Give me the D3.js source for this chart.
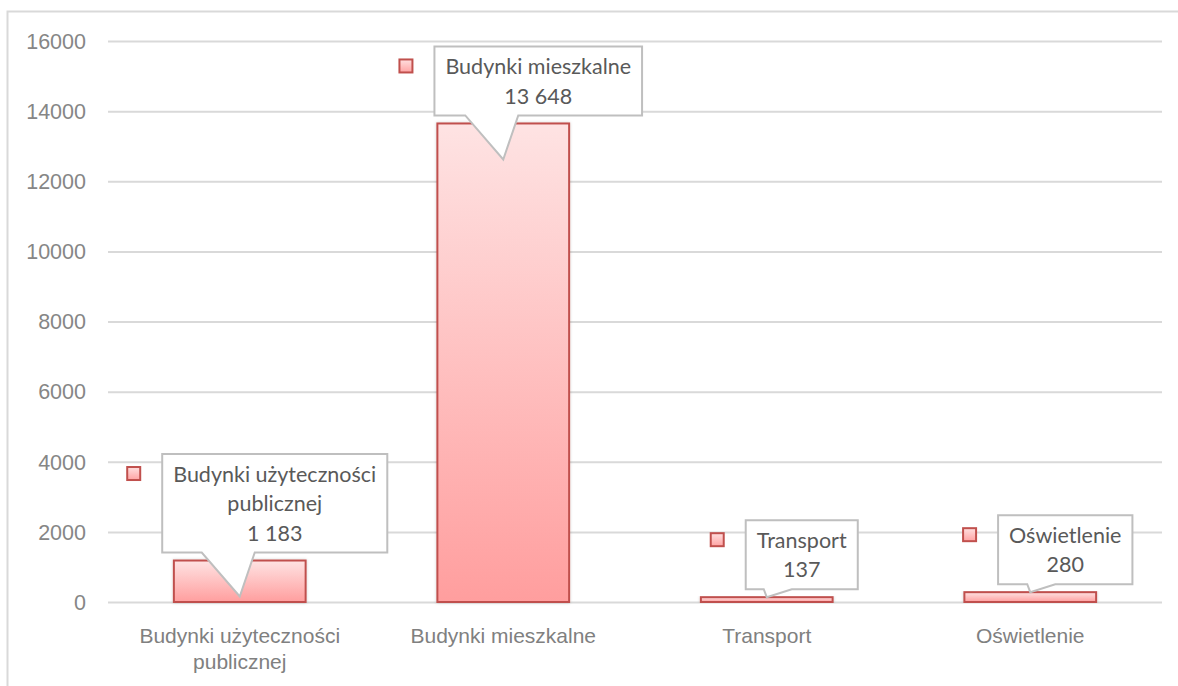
<!DOCTYPE html>
<html>
<head>
<meta charset="utf-8">
<script src="https://cdn.jsdelivr.net/npm/d3@7"></script>
<style>
  html, body { margin: 0; padding: 0; background: #fff; }
  svg { display: block; font-family: Lato, "Open Sans", sans-serif; }
</style>
</head>
<body>
<div id="chart"></div>
<script>
// data
const categories = ["Budynki użyteczności publicznej", "Budynki mieszkalne", "Transport", "Oświetlenie"];
const categoryLines = [["Budynki użyteczności", "publicznej"], ["Budynki mieszkalne"], ["Transport"], ["Oświetlenie"]];
const values = [1183, 13648, 137, 280];
const valueLabels = ["1 183", "13 648", "137", "280"];
const yTicks = [0, 2000, 4000, 6000, 8000, 10000, 12000, 14000, 16000];

let width = 1178,
    height = 686,
    margin = {top: 41, right: 16, bottom: 84, left: 108};

let svg = d3.select("#chart")
    .append("svg")
    .attr("width", width)
    .attr("height", height);

// outer frame (left + top only visible)
svg.append("path")
    .attr("d", "M7.5," + height + "V11.5H" + width)
    .attr("fill", "none")
    .attr("stroke", "#d9d9d9")
    .attr("stroke-width", 2);

let x = d3.scaleBand()
    .domain(categories)
    .range([margin.left, width - margin.right])
    .paddingInner(0.5)
    .paddingOuter(0.25);

let y = d3.scaleLinear()
    .domain([0, 16000])
    .range([height - margin.bottom, margin.top]);

let defs = svg.append("defs");
let grad = defs.append("linearGradient")
    .attr("id", "barGrad")
    .attr("x1", 0).attr("y1", 0).attr("x2", 0).attr("y2", 1);
grad.append("stop").attr("offset", "0%").attr("stop-color", "#fee3e3");
grad.append("stop").attr("offset", "100%").attr("stop-color", "#ff9e9e");

let keyGrad = defs.append("linearGradient")
    .attr("id", "keyGrad")
    .attr("x1", 0).attr("y1", 0).attr("x2", 0).attr("y2", 1);
keyGrad.append("stop").attr("offset", "0%").attr("stop-color", "#ffe0e0");
keyGrad.append("stop").attr("offset", "100%").attr("stop-color", "#ffa3a3");

let shadow = defs.append("filter").attr("id", "shadow")
    .attr("x", "-10%").attr("y", "-10%").attr("width", "120%").attr("height", "120%");
shadow.append("feDropShadow")
    .attr("dx", 0).attr("dy", 0).attr("stdDeviation", 1.5)
    .attr("flood-color", "#000").attr("flood-opacity", 0.18);

// gridlines
let yAxis = d3.axisLeft(y)
    .tickValues(yTicks)
    .tickSize(-(width - margin.left - margin.right))
    .tickPadding(22)
    .tickFormat(d3.format("d"));

let gy = svg.append("g")
    .attr("transform", "translate(" + margin.left + ",0)")
    .call(yAxis);
gy.select(".domain").remove();
gy.selectAll(".tick line")
    .attr("stroke", "#d9d9d9")
    .attr("stroke-width", 2);
gy.selectAll(".tick text")
    .attr("fill", "#868686")
    .attr("font-size", 21.5)
    .attr("dy", "0.34em");

// category labels
let xAxis = d3.axisBottom(x).tickSize(0).tickFormat("");
let gx = svg.append("g")
    .attr("transform", "translate(0," + y(0) + ")")
    .call(xAxis);
gx.select(".domain").remove();
gx.selectAll(".tick").each(function (d, i) {
    let t = d3.select(this).append("text")
        .attr("fill", "#808080")
        .attr("font-size", 21)
        .attr("text-anchor", "middle");
    categoryLines[i].forEach((line, j) => {
        t.append("tspan")
            .attr("x", 0)
            .attr("y", 41 + j * 26)
            .text(line);
    });
});

// bars
svg.append("g")
    .selectAll("rect")
    .data(values)
    .enter()
    .append("rect")
    .attr("x", (d, i) => x(categories[i]))
    .attr("y", d => y(d))
    .attr("width", x.bandwidth())
    .attr("height", d => y(0) - y(d))
    .attr("fill", "url(#barGrad)")
    .attr("stroke", "#c0504d")
    .attr("stroke-width", 2)
    .attr("filter", "url(#shadow)");

// callouts
let lineH = 29.5;
let callouts = svg.append("g");
values.forEach((v, i) => {
    let cx = x(categories[i]) + x.bandwidth() / 2;
    let top = y(v);
    let h = y(0) - top;
    let tipY = Math.min(top + 36, y(0) - 4);
    if (h < 12) tipY = top;
    let lines = categoryLines[i].concat([valueLabels[i]]);

    let g = callouts.append("g");
    let txt = g.append("text")
        .attr("fill", "#595959")
        .attr("font-size", 21.5)
        .attr("text-anchor", "middle");
    let boxCx = cx + 35;
    lines.forEach((line, j) => {
        txt.append("tspan").attr("x", boxCx).attr("dy", j === 0 ? 0 : lineH).text(line);
    });
    let tw = txt.node().getBBox().width;
    let bw = tw + 22;
    let bh = lines.length * lineH + 10;
    let bx0 = boxCx - bw / 2, bx1 = boxCx + bw / 2;
    let by1 = top - 8, by0 = by1 - bh;
    txt.attr("y", by0 + 5 + lineH / 2).attr("dominant-baseline", "central");
    txt.selectAll("tspan").attr("dominant-baseline", "central");

    let dy = tipY - by1;
    let pl, pr;
    if (dy > 20) { pl = cx - 38; pr = cx + 15; }
    else { pl = cx - 3; pr = cx + 25; }

    let p = d3.path();
    p.moveTo(bx0, by0);
    p.lineTo(bx1, by0);
    p.lineTo(bx1, by1);
    p.lineTo(pr, by1);
    p.lineTo(cx, tipY);
    p.lineTo(pl, by1);
    p.lineTo(bx0, by1);
    p.closePath();
    g.insert("path", "text")
        .attr("d", p.toString())
        .attr("fill", "#fff")
        .attr("stroke", "#bfbfbf")
        .attr("stroke-width", 2)
        .attr("stroke-linejoin", "miter");

    g.append("rect")
        .attr("x", bx0 - 35)
        .attr("y", by0 + 13)
        .attr("width", 13)
        .attr("height", 13)
        .attr("fill", "url(#keyGrad)")
        .attr("stroke", "#c0504d")
        .attr("stroke-width", 2);
});
</script>
</body>
</html>
